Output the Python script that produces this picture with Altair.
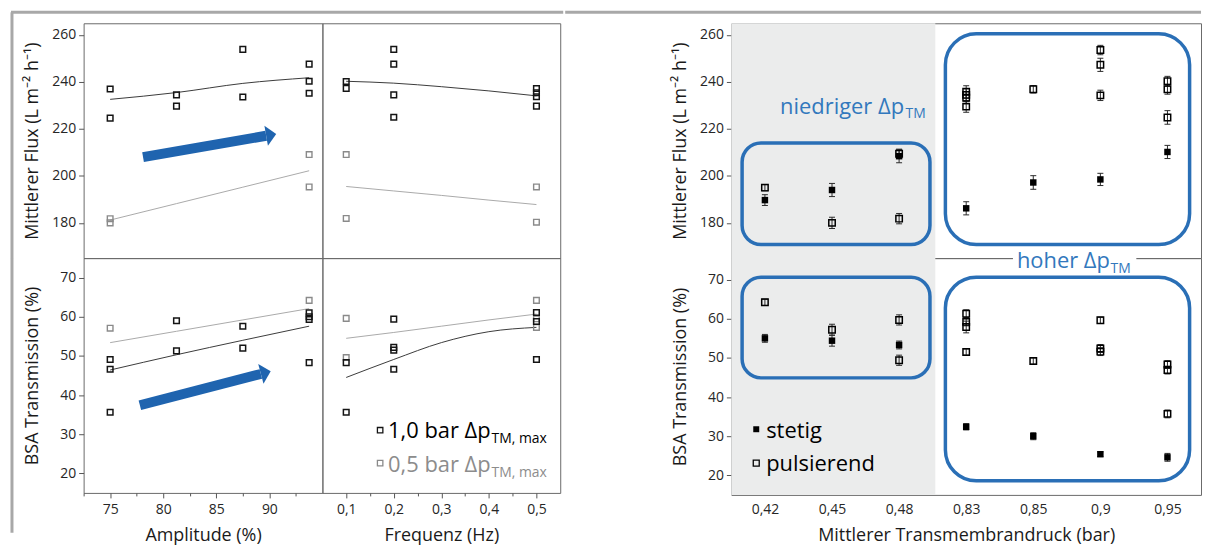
import json
import pandas as pd
import altair as alt

FONT = "Open Sans"
BLUE = "#2a6fb6"
ARROW = "#1f64af"
FRAME = "#a8a8a8"
BLACK = "#141414"
GREY = "#8a8a8a"
TXT_BLUE = "#3278bd"

# ---------------- left chart (DoE effects) ----------------
amp_ticks = [72.5, 75, 77.5, 80, 82.5, 85, 87.5, 90, 92.5]
freq_ticks = [0.1, 0.15, 0.2, 0.25, 0.3, 0.35, 0.4, 0.45, 0.5]
flux_ticks = [180, 200, 220, 240, 260]
bsa_ticks = [20, 30, 40, 50, 60, 70]

# flux vs amplitude
af10_x = [75, 75, 81.25, 81.25, 87.5, 87.5, 93.75, 93.75, 93.75]
af10_y = [237.0, 224.6, 234.5, 229.7, 253.9, 233.6, 247.6, 240.3, 235.2]
af05_x = [75, 75, 93.75, 93.75]
af05_y = [181.8, 180.0, 209.1, 195.3]
af_fit_x = [75, 81.25, 87.5, 93.75]
af_fit10 = [232.6, 235.5, 239.4, 241.8]
af_fit05 = [181.2, 188.2, 195.2, 202.2]

# flux vs frequency
ff10_x = [0.1, 0.1, 0.2, 0.2, 0.2, 0.2, 0.5, 0.5, 0.5, 0.5]
ff10_y = [240.2, 237.3, 253.9, 247.6, 234.5, 225.0, 237.2, 235.4, 233.7, 229.7]
ff05_x = [0.1, 0.1, 0.5, 0.5]
ff05_y = [209.1, 181.9, 195.3, 180.3]
ff_fit_x = [0.1, 0.2, 0.3, 0.4, 0.5]
ff_fit10 = [240.3, 239.5, 238.0, 236.2, 234.1]
ff_fit05 = [195.5, 193.6, 191.7, 189.7, 187.8]

# BSA transmission vs amplitude
ab10_x = [75, 75, 75, 81.25, 81.25, 87.5, 87.5, 93.75, 93.75, 93.75, 93.75]
ab10_y = [49.1, 46.6, 35.6, 59.0, 51.3, 57.6, 52.0, 61.0, 60.0, 59.3, 48.3]
ab05_x = [75, 93.75]
ab05_y = [57.1, 64.2]
ab_fit_x = [75, 81.25, 87.5, 93.75]
ab_fit10 = [46.4, 50.3, 54.0, 57.6]
ab_fit05 = [53.4, 56.3, 59.2, 62.1]

# BSA transmission vs frequency
fb10_x = [0.1, 0.1, 0.2, 0.2, 0.2, 0.2, 0.5, 0.5, 0.5]
fb10_y = [48.3, 35.6, 59.4, 52.2, 51.5, 46.6, 61.1, 58.8, 49.1]
fb05_x = [0.1, 0.1, 0.5, 0.5, 0.5]
fb05_y = [59.6, 49.6, 64.2, 59.5, 57.3]
fb_fit_x = [0.1, 0.2, 0.3, 0.4, 0.5]
fb_fit10 = [44.5, 49.1, 53.4, 56.2, 57.3]
fb_fit05 = [54.5, 56.0, 57.6, 59.2, 60.7]

# trend arrows (data coordinates: tail, head base)
arrow_flux_x = [78.1, 89.7]
arrow_flux_y = [208.0, 217.1]
arrow_bsa_x = [77.8, 89.2]
arrow_bsa_y = [37.4, 45.4]

# ---------------- right chart (pressure comparison) ----------------
press_labels = ["0,42", "0,45", "0,48", "0,83", "0,85", "0,9", "0,95"]

stetig_cat = ["0,42", "0,45", "0,48", "0,83", "0,85", "0,9", "0,95"]
stetig_flux = [189.7, 194.0, 208.4, 186.2, 197.2, 198.5, 210.2]
stetig_flux_err = [2.3, 2.8, 2.8, 2.8, 2.9, 2.6, 2.8]
stetig_bsa = [55.0, 54.4, 53.3, 32.4, 30.0, 25.4, 24.6]
stetig_bsa_err = [1.0, 1.4, 1.0, 0.8, 0.9, 0.6, 1.0]

puls_cat = ["0,42", "0,45", "0,48", "0,48", "0,83", "0,83", "0,83", "0,83",
            "0,85", "0,9", "0,9", "0,9", "0,95", "0,95", "0,95"]
puls_flux = [195.0, 180.0, 209.4, 181.8, 235.8, 234.5, 233.3, 229.5,
             236.9, 253.6, 247.3, 234.3, 240.3, 236.9, 224.9]
puls_flux_err = [1.3, 2.4, 2.0, 2.2, 2.6, 2.6, 2.6, 2.4,
                 1.6, 2.0, 2.8, 2.2, 2.1, 2.1, 2.9]
puls_bsa = [64.2, 57.2, 59.7, 49.4, 61.3, 59.2, 57.9, 51.5,
            49.2, 59.6, 52.4, 51.6, 48.3, 46.9, 35.7]
puls_bsa_err = [0.8, 1.4, 1.3, 1.3, 1.0, 1.0, 1.5, 0.8,
                0.8, 0.8, 1.0, 1.0, 1.0, 1.0, 1.0]

shade_x = [-0.5, 2.54]
box_x0 = [-0.34, 2.69]
box_x1 = [2.46, 6.33]
box_flux_y0 = [170.8, 170.8]
box_flux_y1 = [214.0, 260.5]
box_bsa_y0 = [44.9, 18.6]
box_bsa_y1 = [70.6, 70.6]

ONE = pd.DataFrame({"k": [0]})


# ---------------- helpers ----------------
def sc(domain):
    return alt.Scale(domain=domain, nice=False, zero=False)


def note(text, x, y, size, color):
    return alt.Chart(ONE).mark_text(
        text=text, align="left", baseline="alphabetic", fontSize=size,
        color=color, font=FONT
    ).encode(x=alt.value(x), y=alt.value(y))


def sym(x, y, filled, color, size=30):
    return alt.Chart(ONE).mark_point(
        shape="square", filled=filled, size=size, strokeWidth=1.3,
        color=color, opacity=1
    ).encode(x=alt.value(x), y=alt.value(y))


def rule_px(x, x2, y, y2, color=FRAME, width=3):
    return alt.Chart(ONE).mark_rule(color=color, strokeWidth=width, strokeCap="butt").encode(
        x=alt.value(x), x2=alt.value(x2), y=alt.value(y), y2=alt.value(y2))


AMP_DOM = [72.5, 95]
FREQ_DOM = [0.05, 0.55]
FLUX_DOM = [165, 265]
BSA_DOM = [15, 75]
BSA_DOM_R = [15, 75.5]

amp_axis = alt.Axis(
    values=amp_ticks,
    labelExpr="datum.value % 5 == 0 ? format(datum.value, 'd') : ''",
    tickSize={"condition": {"test": "datum.value % 5 == 0", "value": 5}, "value": 3},
    labelPadding=5, titlePadding=10, labelFlush=False)
freq_axis = alt.Axis(
    values=freq_ticks,
    labelExpr="abs(datum.value*10 - round(datum.value*10)) < 0.001 ? replace(format(datum.value, '.1f'), '.', ',') : ''",
    tickSize={"condition": {"test": "abs(datum.value*10 - round(datum.value*10)) < 0.001", "value": 5}, "value": 3},
    labelPadding=5, titlePadding=10, labelFlush=False)


def yaxis(values):
    return alt.Axis(values=values, tickSize=5, labelPadding=3, minExtent=33,
                    maxExtent=33, titlePadding=9)


FLUX_TITLE = "Mittlerer Flux (L m⁻² h⁻¹)"
BSA_TITLE = "BSA Transmission (%)"


def left_panel(xdom, xaxis, xtitle, ydom, yax, ytitle, p10x, p10y, p05x, p05y,
               fitx, fit10, fit05, w, h, extras=()):
    def X(f):
        return alt.X(f"{f}:Q", scale=sc(xdom), axis=xaxis, title=xtitle)

    def Y(f):
        return alt.Y(f"{f}:Q", scale=sc(ydom), axis=yax, title=ytitle)

    fit = pd.DataFrame({"x": fitx, "a": fit10, "b": fit05})
    d10 = pd.DataFrame({"x": p10x, "y": p10y})
    d05 = pd.DataFrame({"x": p05x, "y": p05y})
    layers = [
        alt.Chart(fit).mark_line(color="#a9a9a9", strokeWidth=1, interpolate="monotone").encode(
            x=X("x"), y=Y("b")),
        alt.Chart(fit).mark_line(color="#3a3a3a", strokeWidth=1, interpolate="monotone").encode(
            x=X("x"), y=Y("a")),
        alt.Chart(d05).mark_point(shape="square", filled=False, size=32, strokeWidth=1.4,
                                  color=GREY, opacity=1).encode(x=X("x"), y=Y("y")),
        alt.Chart(d10).mark_point(shape="square", filled=False, size=32, strokeWidth=1.5,
                                  color=BLACK, opacity=1).encode(x=X("x"), y=Y("y")),
    ]
    for e in extras:
        layers.append(e(X, Y))
    return alt.layer(*layers).properties(width=w, height=h)


def arrow(xs, ys, angle):
    def make(X, Y):
        d = pd.DataFrame({"x": xs, "y": ys})
        head = pd.DataFrame({"x": [xs[1]], "y": [ys[1]]})
        shaft = alt.Chart(d).mark_line(color=ARROW, strokeWidth=10, strokeCap="butt").encode(
            x=X("x"), y=Y("y"))
        tip = alt.Chart(head).mark_point(shape="M0,-1L1,0L0,1Z", size=420, filled=True,
                                         color=ARROW, opacity=1, angle=angle).encode(
            x=X("x"), y=Y("y"))
        return alt.layer(shaft, tip)
    return make


def const(chart):
    return lambda X, Y: chart


W_A, W_F, H_L = 240, 239, 236

A_top = left_panel(AMP_DOM, None, None, FLUX_DOM, yaxis(flux_ticks), FLUX_TITLE,
                   af10_x, af10_y, af05_x, af05_y, af_fit_x, af_fit10, af_fit05, W_A, H_L,
                   extras=[arrow(arrow_flux_x, arrow_flux_y, 350),
                           const(rule_px(-73, 482, -11, -11)),
                           const(rule_px(-72, -72, -11, H_L))])
F_top = left_panel(FREQ_DOM, None, None, FLUX_DOM, None, None,
                   ff10_x, ff10_y, ff05_x, ff05_y, ff_fit_x, ff_fit10, ff_fit05, W_F, H_L)
A_bot = left_panel(AMP_DOM, amp_axis, "Amplitude (%)", BSA_DOM, yaxis(bsa_ticks), BSA_TITLE,
                   ab10_x, ab10_y, ab05_x, ab05_y, ab_fit_x, ab_fit10, ab_fit05, W_A, H_L,
                   extras=[arrow(arrow_bsa_x, arrow_bsa_y, 345),
                           const(rule_px(-72, -72, 0, 276))])
F_bot = left_panel(FREQ_DOM, freq_axis, "Frequenz (Hz)", BSA_DOM, None, None,
                   fb10_x, fb10_y, fb05_x, fb05_y, fb_fit_x, fb_fit10, fb_fit05, W_F, H_L,
                   extras=[const(sym(58, 173, False, BLACK)),
                           const(note("1,0 bar Δp", 66, 181, 22, "#000000")),
                           const(note("TM, max", 170, 185.5, 14, "#000000")),
                           const(sym(58, 206, False, GREY)),
                           const(note("0,5 bar Δp", 66, 215, 22, "#8c8c8c")),
                           const(note("TM, max", 170, 219.5, 14, "#8c8c8c"))])

left_block = alt.concat(A_top, F_top, A_bot, F_bot, columns=2, spacing=0, bounds="flush")

# ---------------- right panels ----------------
W_R = 472
press_axis = alt.Axis(values=list(range(len(press_labels))),
                      labelExpr=json.dumps(press_labels).replace('"', "'") + "[round(datum.value)]",
                      ticks=False, labelPadding=8, titlePadding=10, labelFlush=False)


def right_panel(ydom, yax, ytitle, xaxis, xtitle, st_vals, st_err, pu_vals, pu_err,
                by0, by1, h, extras=()):
    def X(f):
        return alt.X(f"{f}:Q", scale=sc([-0.5, 6.5]), axis=xaxis, title=xtitle)

    def Y(f):
        return alt.Y(f"{f}:Q", scale=sc(ydom), axis=yax, title=ytitle)

    st = pd.DataFrame({"x": [press_labels.index(c) for c in stetig_cat], "y": st_vals,
                       "e": st_err})
    pu = pd.DataFrame({"x": [press_labels.index(c) for c in puls_cat], "y": pu_vals,
                       "e": pu_err})
    for d in (st, pu):
        d["lo"] = d["y"] - d["e"]
        d["hi"] = d["y"] + d["e"]
    shade = pd.DataFrame({"x0": [shade_x[0]], "x1": [shade_x[1]]})
    boxes = pd.DataFrame({"x0": box_x0, "x1": box_x1, "y0": by0, "y1": by1})
    both = pd.concat([st, pu])

    layers = [
        alt.Chart(shade).mark_rect(color="#ebecec").encode(
            x=X("x0"), x2="x1", y=alt.value(0), y2=alt.value(h)),
        alt.Chart(boxes.iloc[[0]]).mark_rect(fillOpacity=0, stroke=BLUE, strokeWidth=3.5,
                                             cornerRadius=19).encode(
            x=X("x0"), x2="x1", y=Y("y0"), y2="y1"),
        alt.Chart(boxes.iloc[[1]]).mark_rect(fillOpacity=0, stroke=BLUE, strokeWidth=3.5,
                                             cornerRadius=31).encode(
            x=X("x0"), x2="x1", y=Y("y0"), y2="y1"),
        alt.Chart(both).mark_rule(color="#2a2a2a", strokeWidth=1).encode(
            x=X("x"), y=Y("lo"), y2="hi"),
        alt.Chart(both).mark_rule(color="#2a2a2a", strokeWidth=1, xOffset=-3, x2Offset=3).encode(
            x=X("x"), x2="x", y=Y("lo")),
        alt.Chart(both).mark_rule(color="#2a2a2a", strokeWidth=1, xOffset=-3, x2Offset=3).encode(
            x=X("x"), x2="x", y=Y("hi")),
        alt.Chart(st).mark_point(shape="square", filled=True, size=42, color="#000000",
                                 opacity=1).encode(x=X("x"), y=Y("y")),
        alt.Chart(pu).mark_point(shape="square", filled=False, size=42, strokeWidth=1.5,
                                 color="#000000", opacity=1).encode(x=X("x"), y=Y("y")),
    ]
    layers += list(extras)
    return alt.layer(*layers).properties(width=W_R, height=h)


R_top = right_panel(FLUX_DOM, yaxis(flux_ticks), FLUX_TITLE, None, None,
                    stetig_flux, stetig_flux_err, puls_flux, puls_flux_err,
                    box_flux_y0, box_flux_y1, 236,
                    extras=[note("niedriger Δp", 49, 91, 22, TXT_BLUE),
                            note("TM", 175, 95.5, 14, TXT_BLUE),
                            rule_px(-167, W_R, -11, -11)])
R_bot = right_panel(BSA_DOM_R, yaxis(bsa_ticks), BSA_TITLE, press_axis,
                    "Mittlerer Transmembrandruck (bar)",
                    stetig_bsa, stetig_bsa_err, puls_bsa, puls_bsa_err,
                    box_bsa_y0, box_bsa_y1, 238,
                    extras=[alt.Chart(ONE).mark_rect(color="white").encode(
                                x=alt.value(283), x2=alt.value(407),
                                y=alt.value(-3), y2=alt.value(3)),
                            note("hoher Δp", 287, 10, 22, TXT_BLUE),
                            note("TM", 381, 14.5, 14, TXT_BLUE),
                            sym(25, 172, True, "#000000", 36),
                            note("stetig", 35, 181, 22, "#000000"),
                            sym(25, 206, False, "#000000", 36),
                            note("pulsierend", 35, 214, 22, "#000000")])

right_block = alt.vconcat(R_top, R_bot, spacing=0, bounds="flush")

chart = alt.hconcat(left_block, right_block, spacing=-2).properties(
    padding={"left": 1, "top": 1, "right": 0, "bottom": 0}
).configure_view(
    stroke="#6a6a6a", strokeWidth=1
).configure_axis(
    domain=False, grid=False, labelFont=FONT, titleFont=FONT, labelFontSize=14,
    titleFontSize=18, labelColor="#262626", titleColor="#1a1a1a",
    titleFontWeight="normal", tickColor="#555555", tickWidth=1
)

chart.save("out.html", embed_options={"renderer": "svg", "actions": False})
